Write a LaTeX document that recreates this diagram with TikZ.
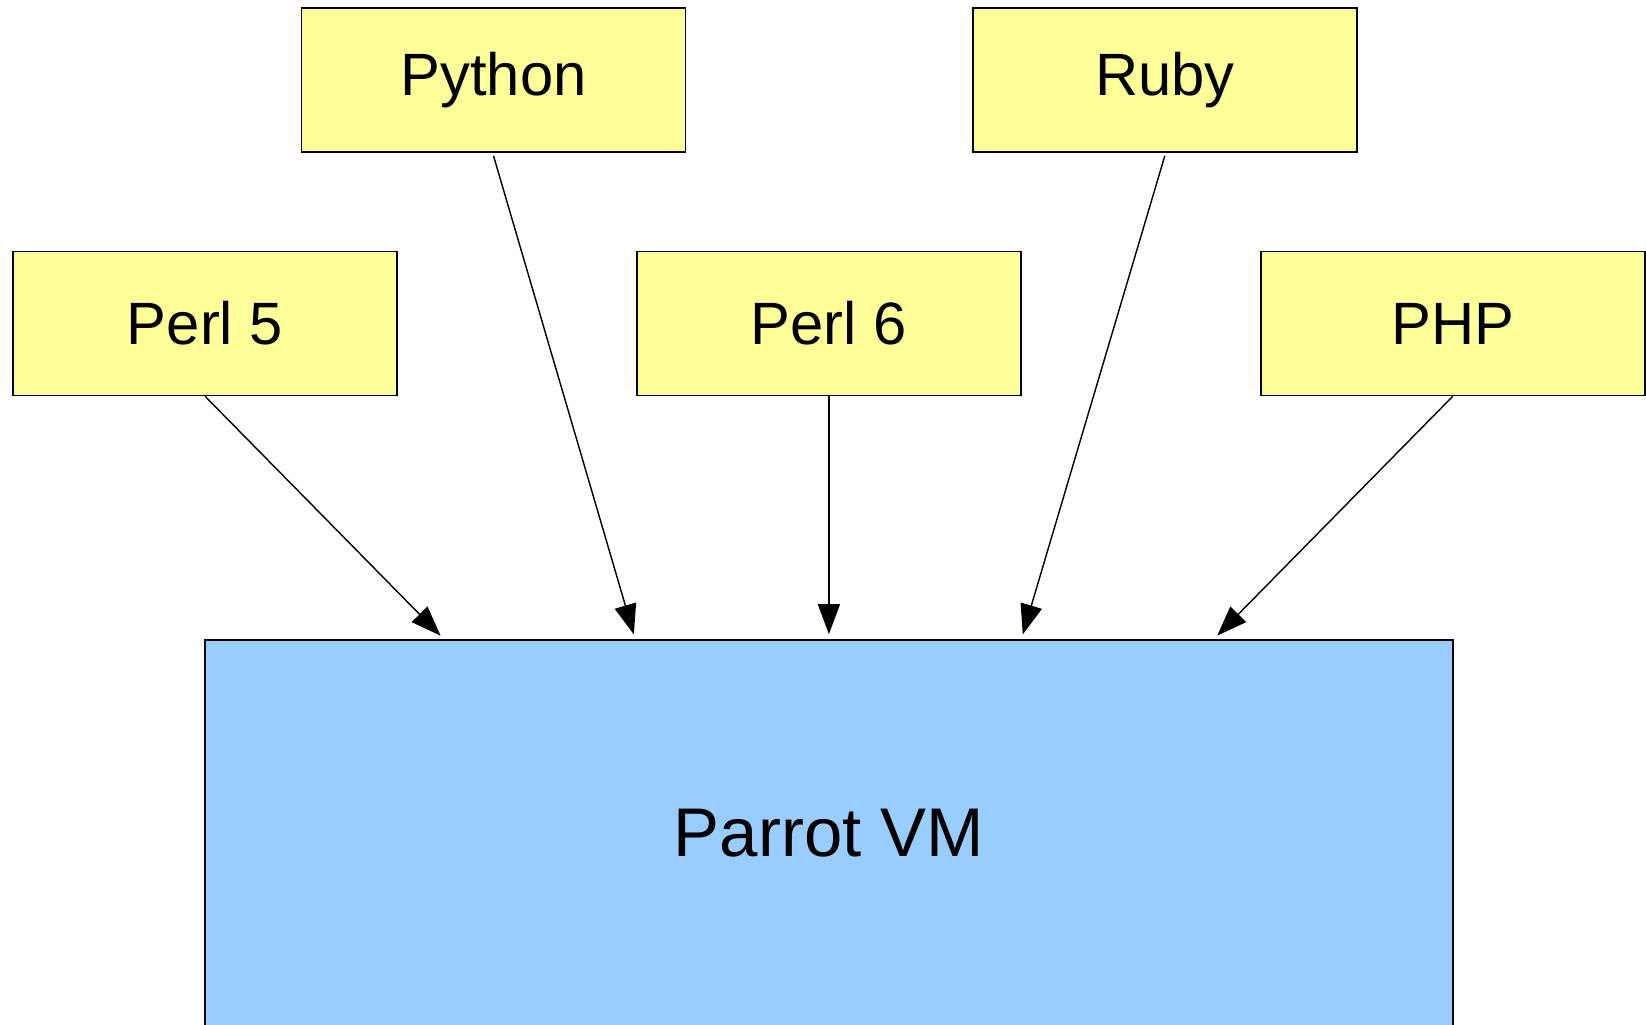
\documentclass[tikz,border=0pt]{standalone}
\usepackage{fontspec}
\setmainfont{Liberation Sans}
\usepackage{tikz}
\usetikzlibrary{arrows.meta,positioning,calc}

\definecolor{langyellow}{HTML}{FFFF99}
\definecolor{vmblue}{HTML}{99CCFF}

\begin{document}
\begin{tikzpicture}[
  langbox/.style={draw, line width=0.4pt, fill=langyellow, minimum width=3.84cm,
                  minimum height=1.44cm, inner sep=0pt,
                  font=\fontsize{17}{20}\selectfont},
  vmbox/.style={draw, line width=0.4pt, fill=vmblue, minimum width=12.48cm,
                minimum height=3.87cm, inner sep=0pt,
                font=\fontsize{19.6}{23}\selectfont},
  arr/.style={-{Triangle[length=0.3cm, width=0.22cm]}, line width=0.4pt,
              shorten >=0.05cm},
  node distance=0.98cm and 2.385cm
]
  \useasboundingbox (0,0) rectangle (16.46,-10.24);

  % languages, lower row
  \node[langbox] (perlfive) at (2.05,-3.235) {Perl 5};
  \node[langbox, right=of perlfive] (perlsix) {Perl 6};
  \node[langbox, right=of perlsix] (php) {PHP};

  % languages, upper row
  \node[langbox, above=of perlfive, xshift=2.885cm] (python) {Python};
  \node[langbox, above=of php, xshift=-2.88cm] (ruby) {Ruby};

  % the virtual machine
  \node[vmbox, below=2.43cm of perlsix] (vm) {Parrot VM};

  % Arrows
  \coordinate (inA) at ($(vm.north west)!0.192!(vm.north east)$);
  \coordinate (inB) at ($(vm.north west)!0.345!(vm.north east)$);
  \coordinate (inC) at ($(vm.north west)!0.654!(vm.north east)$);
  \coordinate (inD) at ($(vm.north west)!0.808!(vm.north east)$);

  \draw[arr] (perlfive.south) -- (inA);
  \draw[arr] ([yshift=-0.03cm]python.south) -- (inB);
  \draw[arr] (perlsix.south) -- (vm.north);
  \draw[arr] ([yshift=-0.03cm]ruby.south) -- (inC);
  \draw[arr] (php.south) -- (inD);
\end{tikzpicture}
\end{document}
